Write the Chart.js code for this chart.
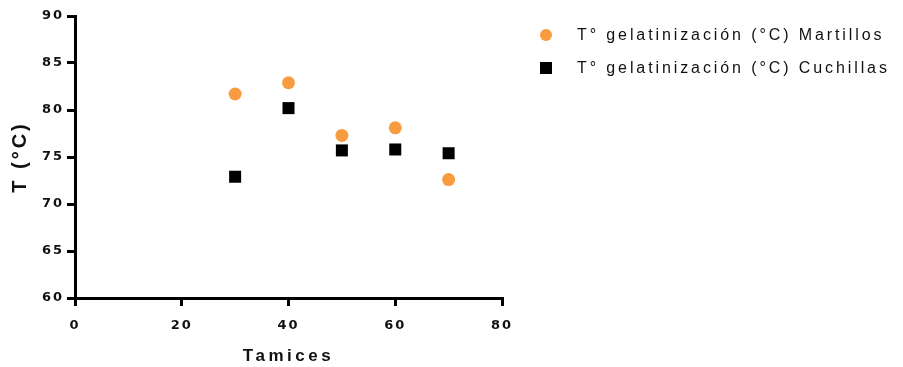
<!DOCTYPE html>
<html><head><meta charset="utf-8">
<script src="https://cdn.jsdelivr.net/npm/chart.js@4.4.1/dist/chart.umd.min.js"></script>
<style>
html,body{margin:0;padding:0;background:#fff;}
#wrap{position:relative;width:903px;height:367px;}
#legend{position:absolute;left:538px;top:24px;font-family:"Liberation Sans",Arial,sans-serif;font-size:16px;letter-spacing:2.9px;color:#111;}
.row{position:relative;height:33px;line-height:22px;padding-left:39px;white-space:nowrap;}
.mk{position:absolute;left:2px;top:5px;}
.circ{width:12px;height:12px;border-radius:50%;background:#F89C3F;}
.sq{width:12px;height:12px;background:#000;}
</style></head>
<body>
<div id="wrap">
<canvas id="c" width="903" height="367"></canvas>
<div id="legend"></div>
</div>
<script>
const xValues = [30, 40, 50, 60, 70];
const martillos = [81.7, 82.9, 77.3, 78.1, 72.6];
const cuchillas = [72.9, 80.2, 75.7, 75.8, 75.4];
const seriesNames = ["T° gelatinización (°C) Martillos", "T° gelatinización (°C) Cuchillas"];
const xTicks = [0, 20, 40, 60, 80];
const yTicks = [60, 65, 70, 75, 80, 85, 90];
const xTitle = "Tamices";
const yTitle = "T (°C)";

const lg = document.getElementById('legend');
lg.innerHTML = '<div class="row"><span class="mk circ"></span>' + seriesNames[0] + '</div>' +
               '<div class="row"><span class="mk sq"></span>' + seriesNames[1] + '</div>';

const titleSpacing = { x: '3.5px', y: '3px' };
const spacing = {
  id: 'spacing',
  beforeUpdate(chart){ chart.ctx.letterSpacing = '2px'; },
  beforeLayout(chart){ chart.ctx.letterSpacing = '2px'; },
  beforeDraw(chart){
    chart.ctx.letterSpacing = '2px';
    for (const id of ['x','y']) {
      const s = chart.scales[id];
      if (s && !s._wrappedTitle) {
        const orig = s.drawTitle.bind(s);
        s.drawTitle = function(){
          const c = this.ctx; const prev = c.letterSpacing;
          c.letterSpacing = titleSpacing[id]; orig(); c.letterSpacing = prev;
        };
        s._wrappedTitle = true;
      }
    }
  }
};

const tickFont = { family: "'DejaVu Sans', sans-serif", size: 13, weight: 'bold' };
const titleFamily = "'Liberation Sans', Arial, sans-serif";
new Chart(document.getElementById('c'), {
  type: 'scatter',
  data: {
    datasets: [
      { label: seriesNames[0], data: xValues.map((x,i)=>({x, y: martillos[i]})),
        pointStyle: 'circle', pointRadius: 6.5, pointHoverRadius: 6.5,
        backgroundColor: '#F89C3F', borderColor: '#F89C3F', borderWidth: 0 },
      { label: seriesNames[1], data: xValues.map((x,i)=>({x, y: cuchillas[i]})),
        pointStyle: 'rect', pointRadius: 8.5, pointHoverRadius: 8.5,
        backgroundColor: '#000', borderColor: '#000', borderWidth: 0 }
    ]
  },
  options: {
    responsive: false, animation: false,
    layout: { padding: { left: 0, top: 16, right: 401, bottom: 0 } },
    plugins: { legend: { display: false }, tooltip: { enabled: false } },
    scales: {
      x: {
        type: 'linear', min: 0, max: 80,
        afterBuildTicks(s){ s.ticks = xTicks.map(v=>({value:v})); },
        afterFit(s){ s.height = 69; },
        border: { display: true, color: '#000', width: 3 },
        grid: { drawOnChartArea: false, drawTicks: true, tickLength: 8, lineWidth: 3, color: '#000' },
        ticks: { color: '#111', padding: 12, font: tickFont, maxRotation: 0 },
        title: { display: true, text: xTitle, color: '#111', padding: { top: 6, bottom: 0 }, font: { family: titleFamily, size: 17, weight: 'bold' } }
      },
      y: {
        type: 'linear', min: 60, max: 90,
        afterBuildTicks(s){ s.ticks = yTicks.map(v=>({value:v})); },
        afterFit(s){ s.width = 75; },
        border: { display: true, color: '#000', width: 3 },
        grid: { drawOnChartArea: false, drawTicks: true, tickLength: 8, lineWidth: 3, color: '#000' },
        ticks: { color: '#111', padding: 3, font: tickFont },
        title: { display: true, text: yTitle, color: '#111', padding: { top: 8, bottom: 0 }, font: { family: titleFamily, size: 20, weight: 'bold' } }
      }
    }
  },
  plugins: [spacing]
});
</script>
</body></html>
